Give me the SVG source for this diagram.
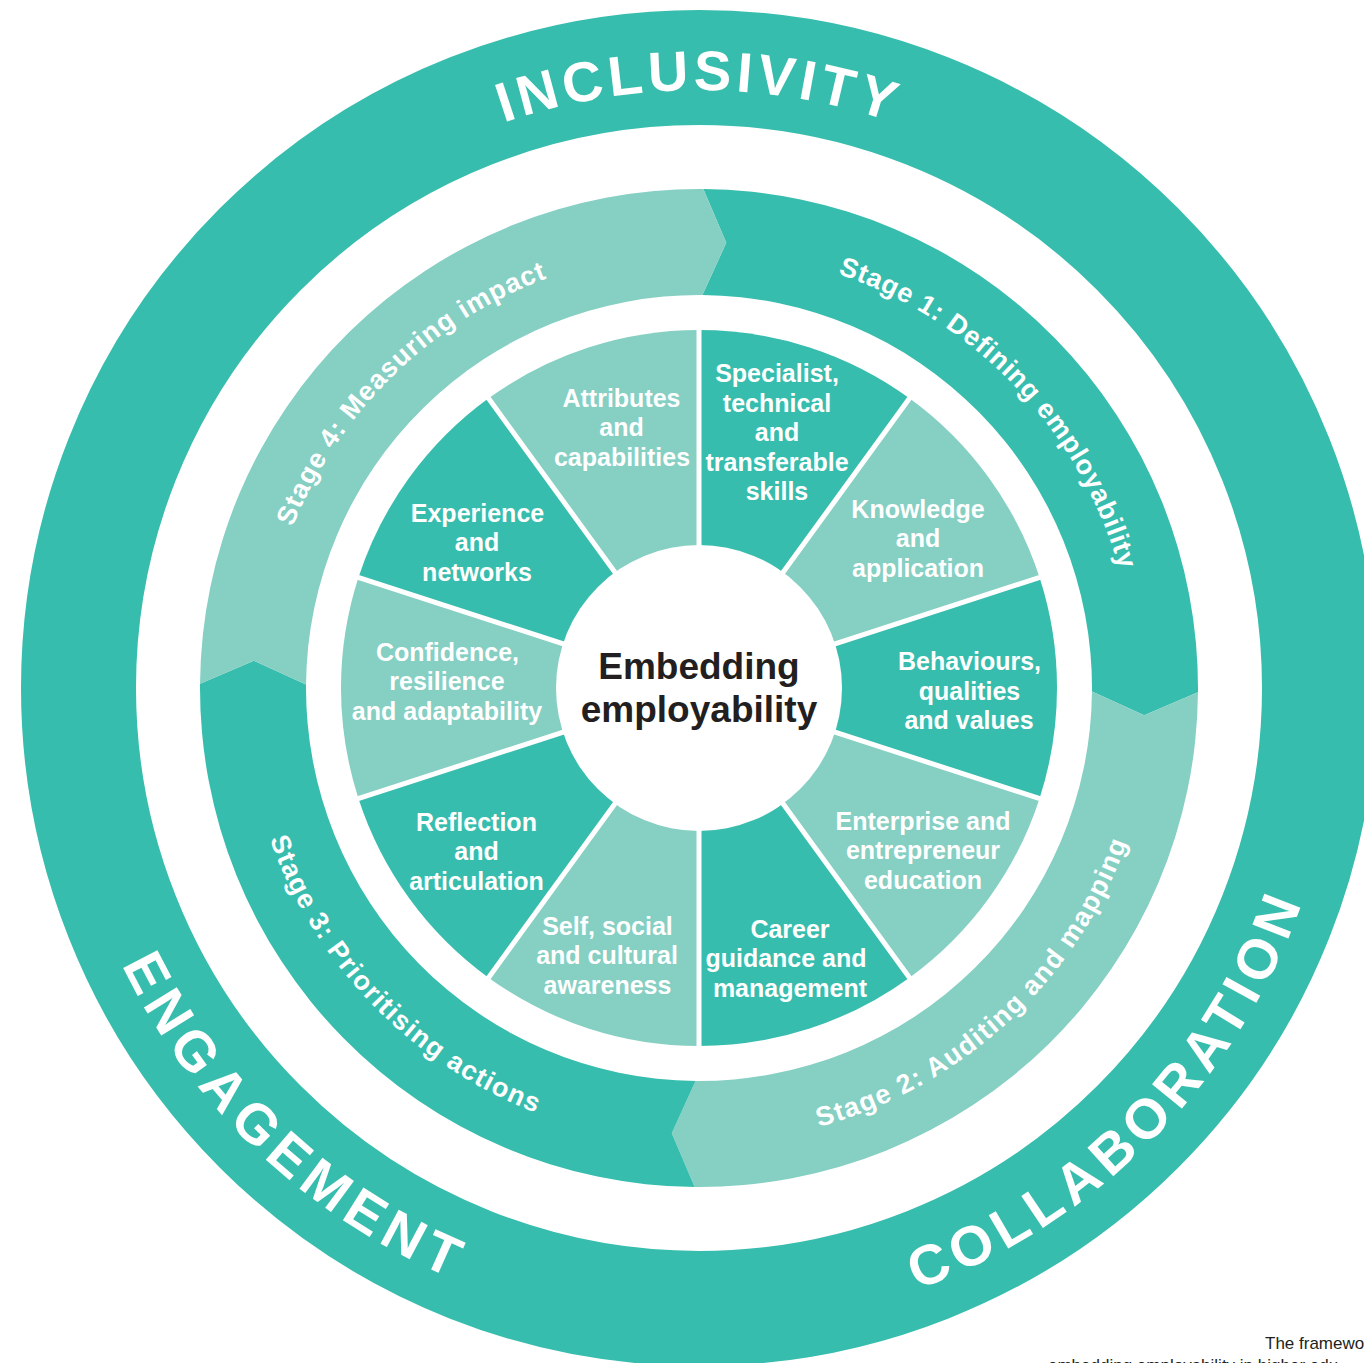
<svg xmlns="http://www.w3.org/2000/svg" width="1364" height="1363" viewBox="0 0 1364 1363">
<defs>
<style>
.dk{fill:#37BDAD}
.lt{fill:#85CFC3}
.big{font-family:"Liberation Sans",Arial,sans-serif;font-weight:bold;font-size:56px;fill:#fff}
.stg{font-family:"Liberation Sans",Arial,sans-serif;font-weight:bold;font-size:27px;fill:#fff}
.wl{font-family:"Liberation Sans",Arial,sans-serif;font-weight:bold;font-size:25px;fill:#fff;text-anchor:middle}
.ct{font-family:"Liberation Sans",Arial,sans-serif;font-weight:bold;font-size:37px;fill:#231F20;text-anchor:middle}
.ft{font-family:"Liberation Sans",Arial,sans-serif;font-size:17px;fill:#231F20}
.div{stroke:#fff;stroke-width:5;fill:none}
</style>
<path id="pInc" d="M137.1 483.5 A598 598 0 0 1 1260.9 483.5"/>
<path id="pEng" d="M111.2 434.8 A640 640 0 0 0 986.6 1259.8"/>
<path id="pCol" d="M432.1 1269.7 A640 640 0 0 0 1277.4 414"/>
<path id="pS1" d="M453.4 326.6 A437 437 0 0 1 1053.4 943.6"/>
<path id="pS4" d="M338 934.3 A437 437 0 0 1 954 333.1"/>
<path id="pS2" d="M423.9 1050.4 A455 455 0 0 0 1081.5 441.5"/>
<path id="pS3" d="M329.7 422.2 A455 455 0 0 0 955.1 1064.1"/>
</defs>
<rect width="1364" height="1363" fill="#fff"/>
<g id="outer-ring">
<circle cx="699" cy="688" r="620.5" fill="none" stroke="#37BDAD" stroke-width="115"/>
<text class="big" letter-spacing="4.5"><textPath href="#pInc" startOffset="50%" text-anchor="middle">INCLUSIVITY</textPath></text>
<text class="big" letter-spacing="7"><textPath href="#pEng" startOffset="50%" text-anchor="middle">ENGAGEMENT</textPath></text>
<text class="big" letter-spacing="6.25"><textPath href="#pCol" startOffset="50%" text-anchor="middle">COLLABORATION</textPath></text>
</g>
<g id="stage-1">
<path class="dk" d="M703.35 189.02 A499 499 0 0 1 1197.98 692.35 L1144.17 715.23 L1091.98 691.43 A393 393 0 0 0 702.43 295.02 L726.23 242.83 Z"/>
<text class="stg" letter-spacing="0.8"><textPath href="#pS1" startOffset="50.4%" text-anchor="middle">Stage 1: Defining employability</textPath></text>
</g>
<g id="stage-2">
<path class="lt" d="M1197.98 692.35 A499 499 0 0 1 694.65 1186.98 L671.77 1133.17 L695.57 1080.98 A393 393 0 0 0 1091.98 691.43 L1144.17 715.23 Z"/>
<text class="stg" letter-spacing="1.4"><textPath href="#pS2" startOffset="50%" text-anchor="middle">Stage 2: Auditing and mapping</textPath></text>
</g>
<g id="stage-3">
<path class="dk" d="M694.65 1186.98 A499 499 0 0 1 200.02 683.65 L253.83 660.77 L306.02 684.57 A393 393 0 0 0 695.57 1080.98 L671.77 1133.17 Z"/>
<text class="stg" letter-spacing="1.3"><textPath href="#pS3" startOffset="50%" text-anchor="middle">Stage 3: Prioritising actions</textPath></text>
</g>
<g id="stage-4">
<path class="lt" d="M200.02 683.65 A499 499 0 0 1 703.35 189.02 L726.23 242.83 L702.43 295.02 A393 393 0 0 0 306.02 684.57 L253.83 660.77 Z"/>
<text class="stg" letter-spacing="1"><textPath href="#pS4" startOffset="50%" text-anchor="middle">Stage 4: Measuring impact</textPath></text>
</g>
<g id="wedge-specialist">
<path class="dk" d="M699 688 L699 330 A358 358 0 0 1 909.43 398.37 Z"/>
<text class="wl"><tspan x="777" y="382">Specialist,</tspan><tspan x="777" y="411.5">technical</tspan><tspan x="777" y="441">and</tspan><tspan x="777" y="470.5">transferable</tspan><tspan x="777" y="500">skills</tspan></text>
</g>
<g id="wedge-knowledge">
<path class="lt" d="M699 688 L909.43 398.37 A358 358 0 0 1 1039.48 577.37 Z"/>
<text class="wl"><tspan x="918" y="518">Knowledge</tspan><tspan x="918" y="547">and</tspan><tspan x="918" y="576.5">application</tspan></text>
</g>
<g id="wedge-behaviours">
<path class="dk" d="M699 688 L1039.48 577.37 A358 358 0 0 1 1039.48 798.63 Z"/>
<text class="wl"><tspan x="969.5" y="669.5">Behaviours,</tspan><tspan x="969.5" y="699.5">qualities</tspan><tspan x="969" y="729">and values</tspan></text>
</g>
<g id="wedge-enterprise">
<path class="lt" d="M699 688 L1039.48 798.63 A358 358 0 0 1 909.43 977.63 Z"/>
<text class="wl"><tspan x="923" y="829.5">Enterprise and</tspan><tspan x="923" y="858.5">entrepreneur</tspan><tspan x="923" y="888.5">education</tspan></text>
</g>
<g id="wedge-career">
<path class="dk" d="M699 688 L909.43 977.63 A358 358 0 0 1 699 1046 Z"/>
<text class="wl"><tspan x="790" y="937.5">Career</tspan><tspan x="786" y="967">guidance and</tspan><tspan x="790" y="996.5">management</tspan></text>
</g>
<g id="wedge-self">
<path class="lt" d="M699 688 L699 1046 A358 358 0 0 1 488.57 977.63 Z"/>
<text class="wl"><tspan x="607.5" y="934.5">Self, social</tspan><tspan x="607" y="964">and cultural</tspan><tspan x="607.5" y="993.5">awareness</tspan></text>
</g>
<g id="wedge-reflection">
<path class="dk" d="M699 688 L488.57 977.63 A358 358 0 0 1 358.52 798.63 Z"/>
<text class="wl"><tspan x="476.5" y="830.5">Reflection</tspan><tspan x="476.5" y="859.5">and</tspan><tspan x="476.5" y="889.5">articulation</tspan></text>
</g>
<g id="wedge-confidence">
<path class="lt" d="M699 688 L358.52 798.63 A358 358 0 0 1 358.52 577.37 Z"/>
<text class="wl"><tspan x="447.5" y="660.5">Confidence,</tspan><tspan x="447" y="690">resilience</tspan><tspan x="447" y="719.5">and adaptability</tspan></text>
</g>
<g id="wedge-experience">
<path class="dk" d="M699 688 L358.52 577.37 A358 358 0 0 1 488.57 398.37 Z"/>
<text class="wl"><tspan x="477.5" y="521.5">Experience</tspan><tspan x="477" y="550.5">and</tspan><tspan x="477" y="580.5">networks</tspan></text>
</g>
<g id="wedge-attributes">
<path class="lt" d="M699 688 L488.57 398.37 A358 358 0 0 1 699 330 Z"/>
<text class="wl"><tspan x="621.5" y="406.5">Attributes</tspan><tspan x="621.5" y="435.5">and</tspan><tspan x="622" y="465.5">capabilities</tspan></text>
</g>
<g id="connectors">
<path class="div" d="M699 688 L699 328 M699 688 L910.6 396.8 M699 688 L1041.4 576.8 M699 688 L1041.4 799.2 M699 688 L910.6 979.2 M699 688 L699 1048 M699 688 L487.4 979.2 M699 688 L356.6 799.2 M699 688 L356.6 576.8 M699 688 L487.4 396.8"/>
</g>
<g id="center">
<circle cx="699" cy="688" r="143" fill="#fff"/>
<text class="ct"><tspan x="699" y="679">Embedding</tspan><tspan x="699" y="722">employability</tspan></text>
</g>
<g id="caption">
<text class="ft" x="1265" y="1349">The framewo</text>
<text class="ft" x="1048" y="1371">embedding employability in higher edu</text>
</g>
</svg>
